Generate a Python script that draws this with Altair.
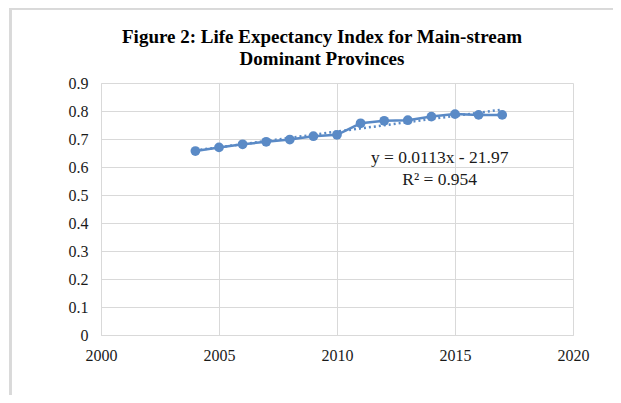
import altair as alt
import pandas as pd

years = [2004, 2005, 2006, 2007, 2008, 2009, 2010, 2011, 2012, 2013, 2014, 2015, 2016, 2017]
index_values = [0.657, 0.670, 0.681, 0.690, 0.698, 0.710, 0.715, 0.756, 0.765, 0.767, 0.780, 0.789, 0.786, 0.786]
title_lines = ["Figure 2:  Life Expectancy Index for Main-stream", "Dominant Provinces"]
eq_labels = ["y = 0.0113x - 21.97", "R² = 0.954"]
eq_x = [2014.35, 2014.35]
eq_y = [0.632, 0.553]
x_ticks = [2000, 2005, 2010, 2015, 2020]
y_ticks = [0, 0.1, 0.2, 0.3, 0.4, 0.5, 0.6, 0.7, 0.8, 0.9]

df = pd.DataFrame({"year": years, "value": index_values})
eq_df = pd.DataFrame({"label": eq_labels, "x": eq_x, "y": eq_y})
title_df = pd.DataFrame({"t": [title_lines]})

BLUE = "#5a8ac6"
GRID = "#d9d9d9"
FONT = "Liberation Serif"

xscale = alt.Scale(domain=[2000, 2020], nice=False)
yscale = alt.Scale(domain=[0, 0.9], nice=False)

xaxis = alt.Axis(values=x_ticks, format="d", title=None,
                 grid=True, gridColor=GRID, domainColor=GRID, ticks=False,
                 labelFont=FONT, labelFontSize=16, labelColor="#1a1a1a", labelPadding=12,
                 labelOverlap=False, labelFlush=False)
yaxis = alt.Axis(values=y_ticks, title=None,
                 grid=True, gridColor=GRID, domainColor=GRID, ticks=False,
                 labelFont=FONT, labelFontSize=16, labelColor="#1a1a1a", labelPadding=13,
                 labelOverlap=False, labelFlush=False,
                 labelExpr="datum.value == 0 ? '0' : format(datum.value, '.1f')")

X = alt.X("year:Q", scale=xscale, axis=xaxis)
Y = alt.Y("value:Q", scale=yscale, axis=yaxis)

base = alt.Chart(df)

line = base.mark_line(color=BLUE, strokeWidth=2.5).encode(x=X, y=Y)
pts = base.mark_circle(color=BLUE, size=95, opacity=1).encode(x=X, y=Y)
trend = base.transform_regression("year", "value").mark_line(
    color=BLUE, strokeWidth=2.5, strokeDash=[2, 3]
).encode(x=X, y=Y)
eq = alt.Chart(eq_df).mark_text(font=FONT, fontSize=17.5, color="#1a1a1a", align="center").encode(
    x=alt.X("x:Q", scale=xscale, axis=xaxis),
    y=alt.Y("y:Q", scale=yscale, axis=yaxis),
    text="label:N",
)
title = alt.Chart(title_df).mark_text(
    font=FONT, fontSize=19, fontWeight="bold", color="#000000", align="center",
    baseline="alphabetic", lineHeight=22
).encode(
    x=alt.value(221), y=alt.value(-40), text="t"
)

border_top = alt.Chart(df).mark_rule(color=GRID, strokeWidth=2).encode(
    x=alt.value(-91), x2=alt.value(520), y=alt.value(-74.5)
)
border_left = alt.Chart(df).mark_rule(color=GRID, strokeWidth=2).encode(
    x=alt.value(-90.5), y=alt.value(-75), y2=alt.value(320)
)

chart = alt.layer(trend, line, pts, eq, title, border_top, border_left).properties(
    width=472,
    height=252,
    padding={"left": 93, "top": 75, "right": 40, "bottom": 60},
    autosize=alt.AutoSizeParams(type="none"),
).configure_view(stroke=None)

chart.save("out.html", embed_options={"renderer": "svg", "actions": False})
